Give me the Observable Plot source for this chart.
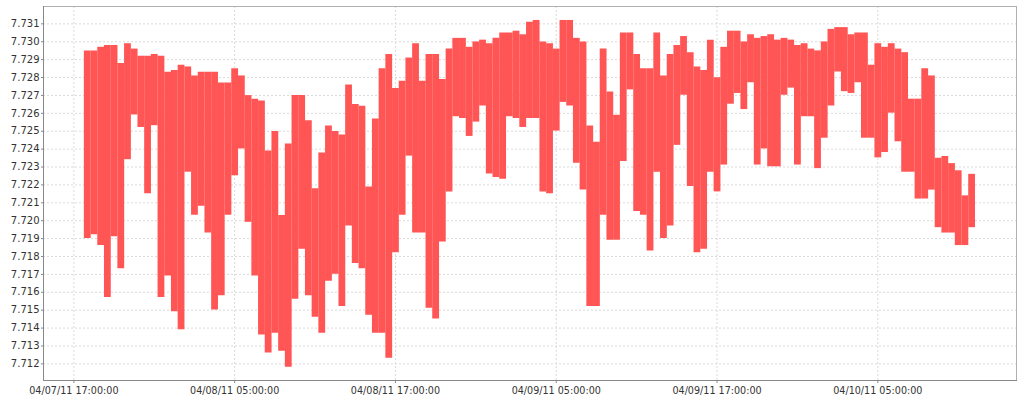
<!DOCTYPE html>
<html><head><meta charset="utf-8">
<script src="https://cdn.jsdelivr.net/npm/d3@7"></script>
<script src="https://cdn.jsdelivr.net/npm/@observablehq/plot@0.6"></script>
<style>body{margin:0;background:#fff} svg{display:block}</style>
</head><body><div id="chart"></div>
<script>
// Half-hourly sample times (UTC), month-day hour:minute of 2011
const times = [
"04-07 18:00","04-07 18:30","04-07 19:00","04-07 19:30","04-07 20:00","04-07 20:30","04-07 21:00","04-07 21:30","04-07 22:00","04-07 22:30","04-07 23:00","04-07 23:30",
"04-08 00:00","04-08 00:30","04-08 01:00","04-08 01:30","04-08 02:00","04-08 02:30","04-08 03:00","04-08 03:30","04-08 04:00","04-08 04:30","04-08 05:00","04-08 05:30",
"04-08 06:00","04-08 06:30","04-08 07:00","04-08 07:30","04-08 08:00","04-08 08:30","04-08 09:00","04-08 09:30","04-08 10:00","04-08 10:30","04-08 11:00","04-08 11:30",
"04-08 12:00","04-08 12:30","04-08 13:00","04-08 13:30","04-08 14:00","04-08 14:30","04-08 15:00","04-08 15:30","04-08 16:00","04-08 16:30","04-08 17:00","04-08 17:30",
"04-08 18:00","04-08 18:30","04-08 19:00","04-08 19:30","04-08 20:00","04-08 20:30","04-08 21:00","04-08 21:30","04-08 22:00","04-08 22:30","04-08 23:00","04-08 23:30",
"04-09 00:00","04-09 00:30","04-09 01:00","04-09 01:30","04-09 02:00","04-09 02:30","04-09 03:00","04-09 03:30","04-09 04:00","04-09 04:30","04-09 05:00","04-09 05:30",
"04-09 06:00","04-09 06:30","04-09 07:00","04-09 07:30","04-09 08:00","04-09 08:30","04-09 09:00","04-09 09:30","04-09 10:00","04-09 10:30","04-09 11:00","04-09 11:30",
"04-09 12:00","04-09 12:30","04-09 13:00","04-09 13:30","04-09 14:00","04-09 14:30","04-09 15:00","04-09 15:30","04-09 16:00","04-09 16:30","04-09 17:00","04-09 17:30",
"04-09 18:00","04-09 18:30","04-09 19:00","04-09 19:30","04-09 20:00","04-09 20:30","04-09 21:00","04-09 21:30","04-09 22:00","04-09 22:30","04-09 23:00","04-09 23:30",
"04-10 00:00","04-10 00:30","04-10 01:00","04-10 01:30","04-10 02:00","04-10 02:30","04-10 03:00","04-10 03:30","04-10 04:00","04-10 04:30","04-10 05:00","04-10 05:30",
"04-10 06:00","04-10 06:30","04-10 07:00","04-10 07:30","04-10 08:00","04-10 08:30","04-10 09:00","04-10 09:30","04-10 10:00","04-10 10:30","04-10 11:00","04-10 11:30",
"04-10 12:00"
];
// Highest reading in each half hour
const highs = [
7.7293,7.7293,7.7295,7.7296,7.7296,7.7286,7.7297,7.7294,7.7290,7.7290,7.7291,7.7290,
7.7281,7.7282,7.7285,7.7284,7.7279,7.7281,7.7281,7.7281,7.7275,7.7275,7.7283,7.7279,
7.7268,7.7266,7.7265,7.7237,7.7248,7.7201,7.7241,7.7268,7.7268,7.7254,7.7216,7.7236,
7.7251,7.7248,7.7246,7.7274,7.7263,7.7262,7.7217,7.7255,7.7283,7.7291,7.7272,7.7276,
7.7289,7.7297,7.7276,7.7291,7.7291,7.7277,7.7294,7.7300,7.7300,7.7295,7.7298,7.7299,
7.7297,7.7300,7.7303,7.7303,7.7304,7.7302,7.7309,7.7310,7.7298,7.7297,7.7294,7.7310,
7.7310,7.7300,7.7298,7.7251,7.7242,7.7294,7.7270,7.7257,7.7303,7.7303,7.7291,7.7283,
7.7283,7.7303,7.7279,7.7291,7.7296,7.7301,7.7292,7.7284,7.7282,7.7299,7.7278,7.7295,
7.7304,7.7304,7.7298,7.7302,7.7300,7.7301,7.7302,7.7299,7.7300,7.7299,7.7296,7.7297,
7.7294,7.7293,7.7298,7.7305,7.7306,7.7306,7.7302,7.7303,7.7303,7.7285,7.7297,7.7295,
7.7297,7.7294,7.7292,7.7266,7.7266,7.7283,7.7279,7.7233,7.7234,7.7230,7.7226,7.7212,
7.7224
];
// Lowest reading in each half hour
const lows = [
7.7192,7.7194,7.7188,7.7159,7.7193,7.7175,7.7236,7.7261,7.7254,7.7217,7.7255,7.7159,
7.7171,7.7151,7.7141,7.7229,7.7205,7.7210,7.7195,7.7152,7.7160,7.7205,7.7227,7.7242,
7.7201,7.7171,7.7138,7.7128,7.7139,7.7129,7.7120,7.7158,7.7186,7.7160,7.7148,7.7139,
7.7168,7.7172,7.7154,7.7199,7.7178,7.7175,7.7149,7.7139,7.7139,7.7125,7.7184,7.7205,
7.7238,7.7195,7.7195,7.7153,7.7147,7.7190,7.7218,7.7260,7.7259,7.7249,7.7257,7.7266,
7.7228,7.7226,7.7225,7.7260,7.7259,7.7254,7.7259,7.7259,7.7218,7.7217,7.7252,7.7268,
7.7266,7.7234,7.7219,7.7154,7.7154,7.7205,7.7191,7.7191,7.7235,7.7275,7.7207,7.7205,
7.7185,7.7229,7.7192,7.7199,7.7244,7.7272,7.7221,7.7184,7.7186,7.7229,7.7218,7.7233,
7.7267,7.7273,7.7264,7.7279,7.7233,7.7242,7.7232,7.7232,7.7272,7.7276,7.7233,7.7260,
7.7260,7.7231,7.7248,7.7266,7.7285,7.7274,7.7273,7.7279,7.7248,7.7248,7.7237,7.7240,
7.7262,7.7246,7.7229,7.7229,7.7214,7.7214,7.7219,7.7198,7.7195,7.7195,7.7188,7.7188,
7.7198
];
const xTicks = ["04-07 17:00","04-08 05:00","04-08 17:00","04-09 05:00","04-09 17:00","04-10 05:00"];
const yTicks = [7.712,7.713,7.714,7.715,7.716,7.717,7.718,7.719,7.720,7.721,7.722,7.723,7.724,7.725,7.726,7.727,7.728,7.729,7.730,7.731];
const xRange = ["04-07 14:44","04-10 15:21"];
const yRange = [7.71107, 7.73197];

const parse = d3.utcParse("%Y-%m-%d %H:%M");
const P = s => parse("2011-" + s);
const data = times.map((t, i) => ({t: P(t), lo: lows[i], hi: highs[i]}));
const xTickDates = xTicks.map(P);

const chart = Plot.plot({
  width: 1024, height: 400,
  marginLeft: 43, marginTop: 6, marginRight: 8, marginBottom: 20,
  style: {fontFamily: "DejaVu Sans", fontSize: "10px", color: "#333", background: "#fff"},
  x: {type: "utc", domain: xRange.map(P)},
  y: {domain: yRange},
  marks: [
    Plot.gridX(xTickDates, {stroke: "#dadada", strokeOpacity: 1, strokeDasharray: "2,2"}),
    Plot.gridY(yTicks, {stroke: "#dadada", strokeOpacity: 1, strokeDasharray: "2,2"}),
    Plot.ruleX(data, {x: "t", y1: "lo", y2: "hi", stroke: "#FF5555", strokeWidth: 6.8, strokeLinecap: "square"}),
    Plot.frame({stroke: "#b0b0b0"}),
    Plot.axisX(xTickDates, {tickSize: 3, tickPadding: 4, tickFormat: d3.utcFormat("%m/%d/%y %H:%M:%S"), stroke: "#888", fontSize: 9.6, label: null}),
    Plot.axisY(yTicks, {tickSize: 2, tickPadding: 2, tickFormat: d3.format(".3f"), stroke: "#888", label: null}),
    Plot.frame({anchor: "left", stroke: "#888"}),
    Plot.frame({anchor: "bottom", stroke: "#888"})
  ]
});
document.getElementById("chart").appendChild(chart);
</script>
</body></html>
